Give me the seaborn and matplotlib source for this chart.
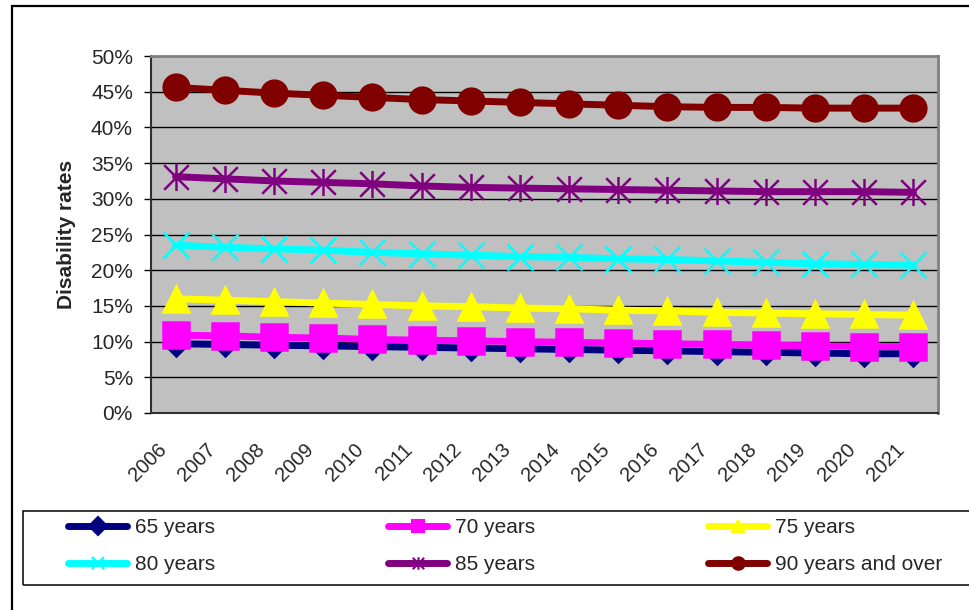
import numpy as np
import matplotlib
matplotlib.use("Agg")
import matplotlib.pyplot as plt
import matplotlib.transforms as mtransforms
from matplotlib.lines import Line2D
from matplotlib.patches import Rectangle
from matplotlib.path import Path
from matplotlib.ticker import PercentFormatter
import seaborn as sns

# data (disability rates, %)
years = list(range(2006, 2022))
groups = ['65 years', '70 years', '75 years', '80 years', '85 years', '90 years and over']
r65 = [9.7, 9.6, 9.5, 9.4, 9.3, 9.2, 9.1, 9.0, 8.9, 8.8, 8.7, 8.6, 8.5, 8.4, 8.3, 8.3]
r70 = [10.9, 10.8, 10.6, 10.5, 10.3, 10.2, 10.1, 10.0, 9.9, 9.8, 9.7, 9.6, 9.5, 9.4, 9.3, 9.3]
r75 = [16.0, 15.8, 15.6, 15.4, 15.2, 15.0, 14.9, 14.7, 14.6, 14.4, 14.3, 14.1, 14.0, 13.9, 13.8, 13.7]
r80 = [23.5, 23.2, 23.0, 22.8, 22.5, 22.3, 22.1, 21.9, 21.8, 21.6, 21.5, 21.3, 21.1, 20.9, 20.8, 20.7]
r85 = [33.1, 32.8, 32.5, 32.3, 32.1, 31.8, 31.6, 31.5, 31.4, 31.3, 31.2, 31.1, 31.0, 31.0, 31.0, 30.9]
r90 = [45.6, 45.2, 44.8, 44.5, 44.2, 43.9, 43.7, 43.5, 43.3, 43.1, 42.9, 42.8, 42.8, 42.7, 42.7, 42.7]
rates = [r65, r70, r75, r80, r85, r90]

colors = ['#000080', '#FF00FF', '#FFFF00', '#00FFFF', '#800080', '#800000']
# excel style asterisk: X plus a vertical bar
star = Path([(-1, -1), (1, 1), (-1, 1), (1, -1), (0, -1.1), (0, 1.1)],
            [Path.MOVETO, Path.LINETO, Path.MOVETO, Path.LINETO, Path.MOVETO, Path.LINETO])
markers = ['D', 's', '^', 'x', star, 'o']
msizes = [12, 18.5, 18.5, 18.5, 19.5, 18.5]

sns.set_style("white")
plt.rcParams['font.family'] = ['Liberation Sans', 'DejaVu Sans']

fig = plt.figure(figsize=(9.7, 6.1), dpi=100)
ax = fig.add_axes([151/970, 1-413/610, (938-151)/970, (413-56)/610])
ax.set_facecolor('#C0C0C0')

for g, vals, c, m, ms in zip(groups, rates, colors, markers, msizes):
    sns.lineplot(x=years, y=vals, color=c, lw=5, marker=m, markersize=ms,
                 mec=c, mfc=c, mew=1.8, ax=ax)

ax.set_ylim(0, 50)
ax.set_yticks(np.arange(0, 51, 5))
ax.yaxis.set_major_formatter(PercentFormatter(decimals=0))
ax.yaxis.grid(True, color='black', lw=1)
ax.set_axisbelow(True)
ax.set_xlim(2005.5, 2021.5)
ax.set_xticks(years)
ax.set_xticklabels([str(y) for y in years], rotation=45, ha='right', va='center',
                   rotation_mode='anchor', fontsize=14.5)
ax.set_xticks(np.arange(2005.5, 2022, 1), minor=True)
ax.tick_params(axis='x', which='major', length=0, pad=24)
ax.tick_params(axis='x', which='minor', length=5, width=1, color='black', direction='out')
ax.tick_params(axis='y', length=5, width=1, color='black', direction='out', pad=8,
               labelsize=15, left=True)
offset = mtransforms.ScaledTranslation(-12/100, 0, fig.dpi_scale_trans)
for lab in ax.get_xticklabels():
    lab.set_transform(lab.get_transform() + offset)

ax.set_ylabel('Disability rates', fontsize=15, fontweight='bold', labelpad=11)
for s in ['top', 'right']:
    ax.spines[s].set_color('#808080')
    ax.spines[s].set_linewidth(2)
for s in ['left', 'bottom']:
    ax.spines[s].set_color('#303030')
    ax.spines[s].set_linewidth(1.5)

# outer chart border and legend box
fig.patches.append(Rectangle((12/970, -0.1), 1.2, 1.1 - 6/610, transform=fig.transFigure,
                             fill=False, ec='black', lw=1.6))
fig.patches.append(Rectangle((23/970, 1-585/610), 1.2, 74/610, transform=fig.transFigure,
                             fill=False, ec='black', lw=1.1))

handles = [Line2D([], [], color=c, lw=5, marker=m, markersize=9, mec=c, mfc=c, mew=1.5,
                  solid_capstyle='round') for c, m in zip(colors, markers)]
# legend rows go across: 65/70/75 then 80/85/90
order = [0, 3, 1, 4, 2, 5]
fig.legend([handles[i] for i in order], [groups[i] for i in order], ncol=3,
           loc='upper left', bbox_to_anchor=(68/970, 1-518/610),
           bbox_transform=fig.transFigure, frameon=False, borderpad=0, borderaxespad=0,
           fontsize=15, handlelength=2.84, handletextpad=0.38, columnspacing=8.3,
           labelspacing=0.88)

fig.savefig('out.png', dpi=100)
